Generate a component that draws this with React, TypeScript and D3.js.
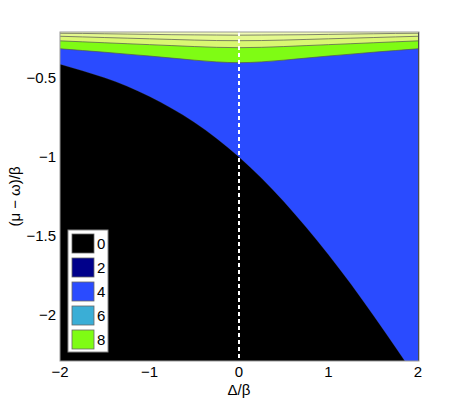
import React from "react";
import * as d3 from "d3";

// Δ/β sample points
const deltas = [-2, -1.75, -1.5, -1.25, -1, -0.75, -0.5, -0.25, 0, 0.25, 0.5, 0.75, 1, 1.25, 1.5, 1.75, 2];
// boundary black (0) / blue (4)
const edge4 = [-0.414, -0.455, -0.5, -0.553, -0.618, -0.694, -0.781, -0.883, -1.0, -1.133, -1.281, -1.444, -1.618, -1.803, -2.0, -2.204, -2.414];
// lower edge of green (8)
const edge8 = [-0.316, -0.327, -0.338, -0.350, -0.362, -0.375, -0.388, -0.399, -0.404, -0.399, -0.388, -0.375, -0.362, -0.350, -0.338, -0.327, -0.316];
// lower edges of the pale yellow bands (10, 12, 14)
const edge10 = [-0.266, -0.272, -0.278, -0.284, -0.290, -0.296, -0.302, -0.307, -0.309, -0.307, -0.302, -0.296, -0.290, -0.284, -0.278, -0.272, -0.266];
const edge12 = [-0.237, -0.241, -0.245, -0.249, -0.253, -0.257, -0.261, -0.264, -0.265, -0.264, -0.261, -0.257, -0.253, -0.249, -0.245, -0.241, -0.237];
const edge14 = [-0.218, -0.219, -0.221, -0.223, -0.225, -0.227, -0.228, -0.229, -0.230, -0.229, -0.228, -0.227, -0.225, -0.223, -0.221, -0.219, -0.218];

const legendLevels = ["0", "2", "4", "6", "8"];
const legendColors = ["#000000", "#00008a", "#2a4bff", "#3aaed6", "#7ffc14"];
const xTicks = [-2, -1, 0, 1, 2];
const yTicks = [-0.5, -1, -1.5, -2];

const W = 463, H = 406;
const left = 60, right = 419, top = 32, bottom = 361;

const fmt = (v: number) => String(v).replace("-", "\u2212");

export default function App() {
  const x = d3.scaleLinear().domain([-2, 2]).range([left, right - 1]);
  const y = d3.scaleLinear().domain([-2.29, -0.21]).range([bottom, top]);

  const band = (lower: number[]) =>
    d3.area<number>()
      .x((_, i) => x(deltas[i]))
      .y0((_, i) => y(lower[i]))
      .y1(top - 2)
      .curve(d3.curveNatural)(deltas) as string;

  const line = (vals: number[]) =>
    d3.line<number>()
      .x((_, i) => x(deltas[i]))
      .y((_, i) => y(vals[i]))
      .curve(d3.curveNatural)(deltas) as string;

  const layers = [
    { d: band(edge4), fill: "#2a4bff" },
    { d: band(edge8), fill: "#7ffc14" },
    { d: band(edge10), fill: "#d9f772" },
    { d: band(edge12), fill: "#e4f98e" },
    { d: band(edge14), fill: "#f1fbb4" },
  ];

  return (
    <svg width={W} height={H} style={{ position: "absolute", left: 0, top: 0, fontFamily: "'Liberation Sans', Arial, sans-serif" }}>
      <defs>
        <clipPath id="plot">
          <rect x={left} y={top} width={right - left} height={bottom - top} />
        </clipPath>
      </defs>
      <g clipPath="url(#plot)">
        <rect x={left} y={top} width={right - left} height={bottom - top} fill="#000" />
        {layers.map((l, i) => (
          <path key={i} d={l.d} fill={l.fill} />
        ))}
        {[edge4, edge8, edge10, edge12, edge14].map((e, i) => (
          <path key={i} d={line(e)} fill="none" stroke="#555" strokeWidth={i === 0 ? 0.4 : 0.8} opacity={i === 0 ? 0.6 : 0.9} />
        ))}
        <line x1={x(0)} x2={x(0)} y1={top} y2={bottom} stroke="#fff" strokeWidth={2} strokeDasharray="4,3" />
      </g>
      <rect x={left} y={top} width={right - left} height={bottom - top} fill="none" stroke="#999" strokeWidth={1} />

      {xTicks.map((t) => (
        <text key={t} x={x(t)} y={377} fontSize={15} textAnchor="middle" fill="#000">{fmt(t)}</text>
      ))}
      {yTicks.map((t) => (
        <text key={t} x={56} y={y(t) + 5} fontSize={15} textAnchor="end" fill="#000">{fmt(t)}</text>
      ))}
      <text x={x(0)} y={395} fontSize={15} textAnchor="middle">Δ/β</text>
      <text transform={`translate(20,${(top + bottom) / 2}) rotate(-90)`} fontSize={15} textAnchor="middle">(μ − ω)/β</text>

      <g>
        <rect x={68} y={230} width={40} height={122} fill="#fff" stroke="#888" strokeWidth={1} />
        {legendLevels.map((lv, i) => (
          <g key={lv} transform={`translate(72,${234 + i * 24})`}>
            <rect width={22} height={19} fill={legendColors[i]} stroke="#666" strokeWidth={0.8} />
            <text x={25} y={15} fontSize={15}>{lv}</text>
          </g>
        ))}
      </g>
    </svg>
  );
}
